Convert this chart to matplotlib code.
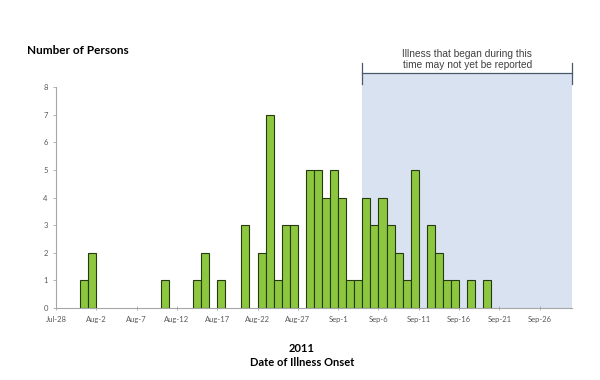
import numpy as np
import pandas as pd
import matplotlib
matplotlib.use("Agg")
import matplotlib.pyplot as plt
import matplotlib.dates as mdates

# onset dates (2011) and number of persons with illness on that date
onset_dates = ["2011-07-31", "2011-08-01", "2011-08-10", "2011-08-14", "2011-08-15",
               "2011-08-17", "2011-08-20", "2011-08-22", "2011-08-23", "2011-08-24",
               "2011-08-25", "2011-08-26", "2011-08-28", "2011-08-29", "2011-08-30",
               "2011-08-31", "2011-09-01", "2011-09-02", "2011-09-03", "2011-09-04",
               "2011-09-05", "2011-09-06", "2011-09-07", "2011-09-08", "2011-09-09",
               "2011-09-10", "2011-09-12", "2011-09-13", "2011-09-14", "2011-09-15",
               "2011-09-17", "2011-09-19"]
persons = [1, 2, 1, 1, 2,
           1, 3, 2, 7, 1,
           3, 3, 5, 5, 4,
           5, 4, 1, 1, 4,
           3, 4, 3, 2, 1,
           5, 3, 2, 1, 1,
           1, 1]

axis_start = "2011-07-28"
axis_end = "2011-09-30"
unreported_start = "2011-09-04"
unreported_end = "2011-09-30"

dates = mdates.date2num(pd.to_datetime(onset_dates))
x0 = mdates.date2num(pd.Timestamp(axis_start))
x1 = mdates.date2num(pd.Timestamp(axis_end))
s0 = mdates.date2num(pd.Timestamp(unreported_start))
s1 = mdates.date2num(pd.Timestamp(unreported_end))

fig = plt.figure(figsize=(6, 3.8), dpi=100)
ax = fig.add_axes([0.0933, 0.1895, 0.86, 0.5815])

# shaded "may not yet be reported" window
ax.axvspan(s0, s1, ymin=0, ymax=1.06, color="#D9E2F0", lw=0, clip_on=False, zorder=0)

ax.bar(dates, persons, width=1, align="edge", color="#8DC63F",
       edgecolor="#263A12", linewidth=0.8, zorder=2)

ax.set_xlim(x0, x1)
ax.set_ylim(0, 8)
ax.set_yticks(range(0, 9))

ticks = mdates.date2num(pd.date_range(axis_start, axis_end, freq="5D"))
ax.set_xticks(ticks)
ax.set_xticklabels([mdates.num2date(t).strftime("%b-") + str(mdates.num2date(t).day)
                    for t in ticks])

for side in ["top", "right"]:
    ax.spines[side].set_visible(False)
for side in ["left", "bottom"]:
    ax.spines[side].set_color("#A6A6A6")
    ax.spines[side].set_linewidth(0.8)
ax.tick_params(axis="both", labelsize=5.5, colors="#A6A6A6", labelcolor="#595959",
               length=2.5, width=0.6)
ax.tick_params(axis="x", direction="inout", length=3, pad=4)
for lbl in ax.get_xticklabels() + ax.get_yticklabels():
    lbl.set_family("Lato")

# bracket above the shaded window
yb = 8.5
ax.plot([s0, s1], [yb, yb], color="#4A5A6E", lw=0.9, clip_on=False)
ax.plot([s0, s0], [yb - 0.38, yb + 0.38], color="#4A5A6E", lw=0.9, clip_on=False)
ax.plot([s1, s1], [yb - 0.38, yb + 0.38], color="#4A5A6E", lw=0.9, clip_on=False)
ax.text((s0 + s1) / 2, yb + 0.12, "Illness that began during this\ntime may not yet be reported",
        ha="center", va="bottom", fontsize=7.3, family="Liberation Sans",
        color="#404040", linespacing=1.05)

fig.text(0.045, 0.868, "Number of Persons", fontsize=8.5, fontweight="bold",
         family="Lato", ha="left", va="center")
fig.text(0.503, 0.082, "2011", fontsize=8, fontweight="bold", family="Lato",
         ha="center", va="center")
fig.text(0.503, 0.045, "Date of Illness Onset", fontsize=8, fontweight="bold",
         family="Lato", ha="center", va="center")

fig.savefig("out.png", dpi=100)
